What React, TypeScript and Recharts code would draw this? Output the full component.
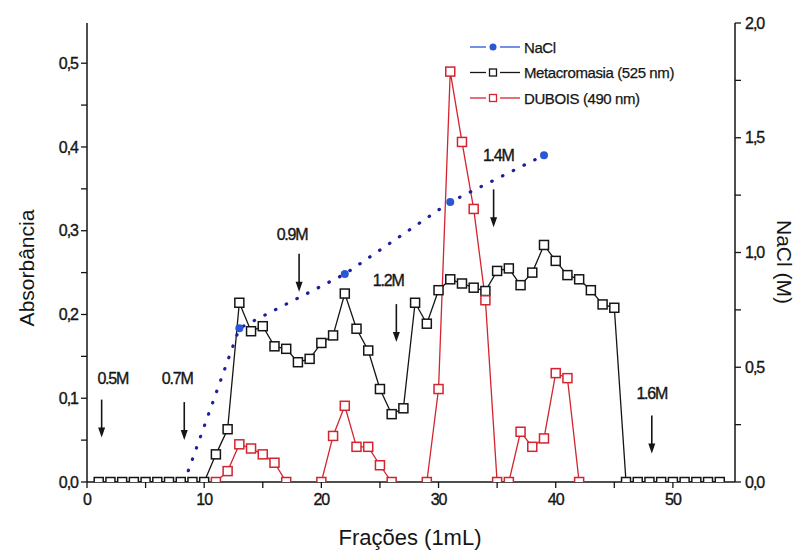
import React from "react";
import { ComposedChart, Line, XAxis, YAxis, Legend, ReferenceDot } from "recharts";

const fractions = [
  1, 2, 3, 4, 5, 6, 7, 8, 9, 10, 11, 12, 13, 14, 15, 16, 17, 18, 19, 20, 21, 22, 23, 24, 25, 26, 27,
  28, 29, 30, 31, 32, 33, 34, 35, 36, 37, 38, 39, 40, 41, 42, 43, 44, 45, 46, 47, 48, 49, 50, 51, 52,
  53, 54,
];

const metacromasia = [
  0, 0, 0, 0, 0, 0, 0, 0, 0, 0, 0.033, 0.063, 0.214, 0.18, 0.186, 0.162, 0.159, 0.143, 0.147, 0.166,
  0.175, 0.225, 0.183, 0.157, 0.111, 0.081, 0.088, 0.214, 0.189, 0.229, 0.242, 0.237, 0.232, 0.228,
  0.252, 0.255, 0.235, 0.25, 0.283, 0.264, 0.247, 0.242, 0.229, 0.212, 0.208, 0, 0, 0, 0, 0, 0, 0, 0,
  0,
];

const dubois = [
  null, null, null, null, null, null, null, null, null, null, 0, 0.013, 0.045, 0.04, 0.033, 0.023, 0,
  null, null, 0, 0.055, 0.091, 0.042, 0.042, 0.02, 0, null, null, 0, 0.111, 0.49, 0.406, 0.326, 0.217,
  0, 0, 0.06, 0.042, 0.052, 0.13, 0.124, 0, null, null, null, null, null, null, null, null, null, null,
  null, null,
];

const naclFractions = [8.3, 13, 22, 31, 39];
const naclValues = [0, 0.67, 0.906, 1.22, 1.424];

const leftTicks = [0, 0.05, 0.1, 0.15, 0.2, 0.25, 0.3, 0.35, 0.4, 0.45, 0.5];
const rightTicks = [0, 0.25, 0.5, 0.75, 1, 1.25, 1.5, 1.75, 2];
const xTicks = [0, 5, 10, 15, 20, 25, 30, 35, 40, 45, 50];

const legendNames = ["NaCl", "Metacromasia (525 nm)", "DUBOIS (490 nm)"];

// salt step annotations (arrow tip and label, in data units)
const stepLabels = ["0.5M", "0.7M", "0.9M", "1.2M", "1.4M", "1.6M"];
const arrowX = [1.25, 8.3, 18.1, 26.4, 34.7, 48.2];
const arrowTip = [0.053, 0.05, 0.227, 0.167, 0.304, 0.034];
const labelX = [2.2, 7.7, 17.5, 25.7, 35.1, 48.2];
const labelY = [0.123, 0.123, 0.296, 0.241, 0.39, 0.106];

const rows = fractions.map((x, i) => ({ x, meta: metacromasia[i], dubois: dubois[i] }));
const naclRows = naclFractions.map((x, i) => ({ x, nacl: naclValues[i] }));

const FONT = "'Liberation Sans Narrow', 'Liberation Sans', Arial, sans-serif";
const BLACK = "#151515";
const RED = "#d3242f";
const NAVY = "#1d1f9e";
const BLUE = "#2b56d6";

const squareDot = (color: string, tag: string) => (props: any) => {
  const { cx, cy, index, value } = props;
  if (cx == null || cy == null || value == null || (Array.isArray(value) && value[1] == null))
    return <g key={`${tag}-${index}`} />;
  return (
    <rect
      key={`${tag}-${index}`}
      x={cx - 4.5}
      y={cy - 4.5}
      width={9}
      height={9}
      fill="#fff"
      stroke={color}
      strokeWidth={1.5}
    />
  );
};

const naclDot = (props: any) => {
  const { cx, cy, index } = props;
  if (index === 0 || cx == null) return <g key={`n-${index}`} />;
  return <circle key={`n-${index}`} cx={cx} cy={cy} r={4} fill={BLUE} />;
};

const arrowShape = (props: any) => {
  const { cx, cy } = props;
  return (
    <g>
      <line x1={cx} y1={cy - 38} x2={cx} y2={cy - 8} stroke={BLACK} strokeWidth={1.6} />
      <polygon points={`${cx - 3.5},${cy - 10} ${cx + 3.5},${cy - 10} ${cx},${cy}`} fill={BLACK} />
    </g>
  );
};

const labelShape = (text: string) => (props: any) => (
  <text
    x={props.cx}
    y={props.cy}
    textAnchor="middle"
    dominantBaseline="central"
    fontFamily={FONT}
    fontSize={16}
    letterSpacing={-1.2}
    fill={BLACK}
    stroke={BLACK}
    strokeWidth={0.35}
  >
    {text}
  </text>
);

const renderLegend = () => {
  const colors = [BLUE, BLACK, RED];
  return (
    <svg width={250} height={80}>
      {legendNames.map((name, i) => {
        const y = 12 + i * 25.5;
        return (
          <g key={name}>
            <line x1={2} y1={y} x2={18} y2={y} stroke={colors[i]} strokeWidth={1.3} />
            <line x1={32} y1={y} x2={52} y2={y} stroke={colors[i]} strokeWidth={1.3} />
            {i === 0 ? (
              <circle cx={25} cy={y} r={3.5} fill={BLUE} />
            ) : (
              <rect x={21.5} y={y - 3.5} width={7} height={7} fill="#fff" stroke={colors[i]} strokeWidth={1.3} />
            )}
            <text
              x={56}
              y={y}
              dominantBaseline="central"
              fontFamily={FONT}
              fontSize={15}
              letterSpacing={-0.4}
              fill={BLACK}
              stroke={BLACK}
              strokeWidth={0.25}
            >
              {name}
            </text>
          </g>
        );
      })}
    </svg>
  );
};

const tickStyle = {
  fill: BLACK,
  fontSize: 16,
  fontFamily: FONT,
  letterSpacing: -1,
  stroke: BLACK,
  strokeWidth: 0.35,
};
const axisLine = { stroke: BLACK, strokeWidth: 1.5 };

const fmtComma = (v: number) => v.toFixed(1).replace(".", ",");

export default function App() {
  return (
    <div style={{ position: "absolute", left: 0, top: 0, width: 800, height: 550, background: "#fff" }}>
      <ComposedChart
        width={800}
        height={550}
        data={rows}
        margin={{ top: 23, right: 0, bottom: 0, left: 0 }}
      >
        <XAxis
          xAxisId="bottom"
          dataKey="x"
          type="number"
          domain={[0, 55.3]}
          allowDataOverflow
          ticks={xTicks}
          interval={0}
          tickFormatter={(v: number) => (v % 10 === 0 ? String(v) : "")}
          height={68}
          tickSize={6}
          tickMargin={6}
          axisLine={axisLine}
          tickLine={{ stroke: BLACK, strokeWidth: 1.3 }}
          tick={tickStyle}
          label={{
            content: () => (
              <text x={410} y={537} textAnchor="middle" dominantBaseline="central" fontFamily={FONT} fontSize={22} fill={BLACK}>
                Frações (1mL)
              </text>
            ),
          }}
        />
        <XAxis
          xAxisId="top"
          orientation="top"
          type="number"
          domain={[0, 55.3]}
          allowDataOverflow
          ticks={xTicks}
          interval={0}
          tickFormatter={() => ""}
          height={0}
          mirror
          tickSize={6}
          axisLine={axisLine}
          tickLine={{ stroke: BLACK, strokeWidth: 1.3 }}
        />
        <YAxis
          yAxisId="left"
          type="number"
          domain={[0, 0.548]}
          allowDataOverflow
          ticks={leftTicks}
          interval={0}
          tickFormatter={(v: number) => (Math.round(v * 100) % 10 === 0 ? fmtComma(v) : "")}
          width={87}
          tickSize={6}
          tickMargin={3}
          axisLine={axisLine}
          tickLine={{ stroke: BLACK, strokeWidth: 1.3 }}
          tick={tickStyle}
          label={{
            content: () => (
              <text
                x={26}
                y={268}
                transform="rotate(-90 26 268)"
                textAnchor="middle"
                dominantBaseline="central"
                fontFamily={FONT}
                fontSize={21}
                fill={BLACK}
              >
                Absorbância
              </text>
            ),
          }}
        />
        <YAxis
          yAxisId="right"
          orientation="right"
          type="number"
          domain={[0, 2]}
          allowDataOverflow
          ticks={rightTicks}
          interval={0}
          tickFormatter={(v: number) => (Math.round(v * 100) % 50 === 0 ? fmtComma(v) : "")}
          width={65}
          tickSize={6}
          tickMargin={4}
          axisLine={axisLine}
          tickLine={{ stroke: BLACK, strokeWidth: 1.3 }}
          tick={tickStyle}
          label={{
            content: () => (
              <text
                x={784}
                y={262}
                transform="rotate(90 784 262)"
                textAnchor="middle"
                dominantBaseline="central"
                fontFamily={FONT}
                fontSize={21}
                fill={BLACK}
              >
                NaCl (M)
              </text>
            ),
          }}
        />
        <Legend
          layout="vertical"
          align="center"
          verticalAlign="middle"
          content={renderLegend}
          wrapperStyle={{ left: 468, top: 35, width: 250, height: 80 }}
        />
        <Line
          xAxisId="bottom"
          yAxisId="left"
          dataKey="meta"
          stroke={BLACK}
          strokeWidth={1.3}
          dot={squareDot(BLACK, "m")}
          activeDot={false}
          isAnimationActive={false}
          type="linear"
        />
        <Line
          xAxisId="bottom"
          yAxisId="left"
          dataKey="dubois"
          stroke={RED}
          strokeWidth={1.3}
          dot={squareDot(RED, "d")}
          activeDot={false}
          connectNulls={false}
          isAnimationActive={false}
          type="linear"
        />
        <Line
          xAxisId="bottom"
          yAxisId="right"
          data={naclRows}
          dataKey="nacl"
          stroke={NAVY}
          strokeWidth={3.2}
          strokeDasharray="0.5 11.5"
          strokeLinecap="round"
          dot={naclDot}
          activeDot={false}
          isAnimationActive={false}
          type="linear"
        />
        {stepLabels.map((s, i) => (
          <ReferenceDot
            key={`a-${s}`}
            xAxisId="bottom"
            yAxisId="left"
            x={arrowX[i]}
            y={arrowTip[i]}
            r={1}
            shape={arrowShape}
          />
        ))}
        {stepLabels.map((s, i) => (
          <ReferenceDot
            key={`l-${s}`}
            xAxisId="bottom"
            yAxisId="left"
            x={labelX[i]}
            y={labelY[i]}
            r={1}
            shape={labelShape(s)}
          />
        ))}
      </ComposedChart>
    </div>
  );
}
